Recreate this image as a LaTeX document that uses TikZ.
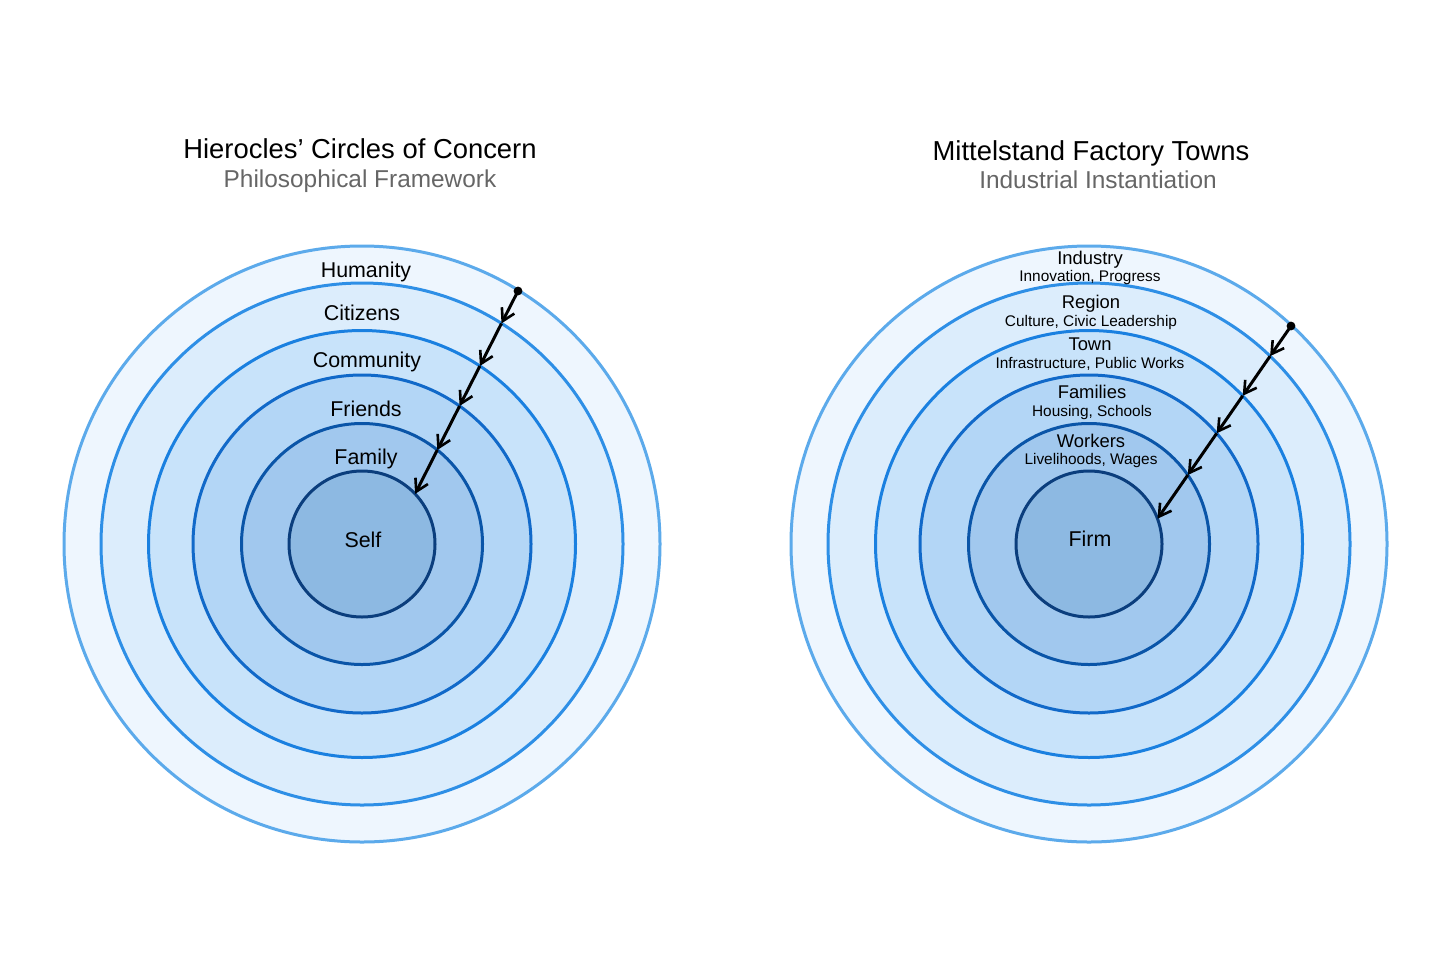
\documentclass[tikz,border=0pt]{standalone}
\usepackage{fontspec}
\setmainfont{Liberation Sans}
\usetikzlibrary{arrows.meta}
\definecolor{fA}{HTML}{EEF6FE}
\definecolor{fB}{HTML}{DCEDFC}
\definecolor{fC}{HTML}{C8E3FA}
\definecolor{fD}{HTML}{B3D6F6}
\definecolor{fE}{HTML}{A1C8EE}
\definecolor{fF}{HTML}{8DB9E2}
\definecolor{sA}{HTML}{5CAAEB}
\definecolor{sB}{HTML}{2E8FE6}
\definecolor{sC}{HTML}{1A80E0}
\definecolor{sD}{HTML}{1169C9}
\definecolor{sE}{HTML}{0A55A8}
\definecolor{sF}{HTML}{0B3E7D}
\definecolor{subgray}{HTML}{666666}
\begin{document}
\begin{tikzpicture}[x=0.5pt,y=-0.5pt,
  ring/.style={circle,inner sep=0pt,line width=1.5pt},
  ttl/.style={anchor=base,inner sep=0pt,font=\fontsize{13.7}{15}\selectfont},
  sub/.style={anchor=base,inner sep=0pt,text=subgray,font=\fontsize{12.2}{14}\selectfont},
  lab/.style={anchor=base,inner sep=0pt,font=\fontsize{10.7}{12}\selectfont},
  rlab/.style={anchor=base,inner sep=0pt,font=\fontsize{9.2}{11}\selectfont},
  slab/.style={anchor=base,inner sep=0pt,font=\fontsize{7.7}{9}\selectfont},
  arr/.style={line width=1.5pt,-{Straight Barb[length=6pt,width=7pt,line width=1.3pt]}}]
\useasboundingbox (0,0) rectangle (1456,959);
\fill[white] (0,0) rectangle (1456,959);

% ---------- Left diagram ----------
\node[ring,draw=sA,fill=fA,minimum size=298pt] (L1) at (362,544) {};
\node[ring,draw=sB,fill=fB,minimum size=261pt] (L2) at (362,544) {};
\node[ring,draw=sC,fill=fC,minimum size=213.5pt] (L3) at (362,544) {};
\node[ring,draw=sD,fill=fD,minimum size=169pt] (L4) at (362,544) {};
\node[ring,draw=sE,fill=fE,minimum size=120.5pt] (L5) at (362,544) {};
\node[ring,draw=sF,fill=fF,minimum size=73pt] (L6) at (362,544) {};

\node[ttl] (LT) at (360,158.5) {Hierocles’ Circles of Concern};
\node[sub] (LS) at (360,187.5) {Philosophical Framework};

\node[lab] (Lh) at (366,277) {Humanity};
\node[lab] (Lc) at (362,320) {Citizens};
\node[lab] (Lm) at (367,367) {Community};
\node[lab] (Lf) at (366,416) {Friends};
\node[lab] (Ly) at (366,464) {Family};
\node[lab] (Ls) at (363,547.5) {Self};

\coordinate (La) at (518,291);
\coordinate (Lb) at (501.5,323.4);
\coordinate (Lc2) at (479.9,366.0);
\coordinate (Ld) at (459.6,406.0);
\coordinate (Le) at (437.3,450.0);
\coordinate (Lg) at (415.1,493.9);
\draw[arr] (La) -- (Lb);
\draw[arr] (Lb) -- (Lc2);
\draw[arr] (Lc2) -- (Ld);
\draw[arr] (Ld) -- (Le);
\draw[arr] (Le) -- (Lg);
\fill (La) circle[radius=2.2pt];

% ---------- Right diagram ----------
\node[ring,draw=sA,fill=fA,minimum size=298pt] (R1) at (1089,544) {};
\node[ring,draw=sB,fill=fB,minimum size=261pt] (R2) at (1089,544) {};
\node[ring,draw=sC,fill=fC,minimum size=213.5pt] (R3) at (1089,544) {};
\node[ring,draw=sD,fill=fD,minimum size=169pt] (R4) at (1089,544) {};
\node[ring,draw=sE,fill=fE,minimum size=120.5pt] (R5) at (1089,544) {};
\node[ring,draw=sF,fill=fF,minimum size=73pt] (R6) at (1089,544) {};

\node[ttl] (RT) at (1091,160) {Mittelstand Factory Towns};
\node[sub] (RS) at (1098,188.5) {Industrial Instantiation};

\node[rlab] (Ri) at (1090,264.5) {Industry};
\node[slab] (Ri2) at (1090,281.5) {Innovation, Progress};
\node[rlab] (Rr) at (1091,308.5) {Region};
\node[slab] (Rr2) at (1091,326) {Culture, Civic Leadership};
\node[rlab] (Rt) at (1090,350.5) {Town};
\node[slab] (Rt2) at (1090,368.5) {Infrastructure, Public Works};
\node[rlab] (Rf) at (1092,398.5) {Families};
\node[slab] (Rf2) at (1092,416.5) {Housing, Schools};
\node[rlab] (Rw) at (1091,447) {Workers};
\node[slab] (Rw2) at (1091,464.5) {Livelihoods, Wages};
\node[lab] (Rm) at (1090,546.5) {Firm};

\coordinate (Ra) at (1291,326);
\coordinate (Rb) at (1270.1,356.1);
\coordinate (Rc) at (1242.7,395.8);
\coordinate (Rd) at (1216.7,433.3);
\coordinate (Re) at (1187.8,475.0);
\coordinate (Rg) at (1157.5,518.7);
\draw[arr] (Ra) -- (Rb);
\draw[arr] (Rb) -- (Rc);
\draw[arr] (Rc) -- (Rd);
\draw[arr] (Rd) -- (Re);
\draw[arr] (Re) -- (Rg);
\fill (Ra) circle[radius=2.2pt];
\end{tikzpicture}
\end{document}
